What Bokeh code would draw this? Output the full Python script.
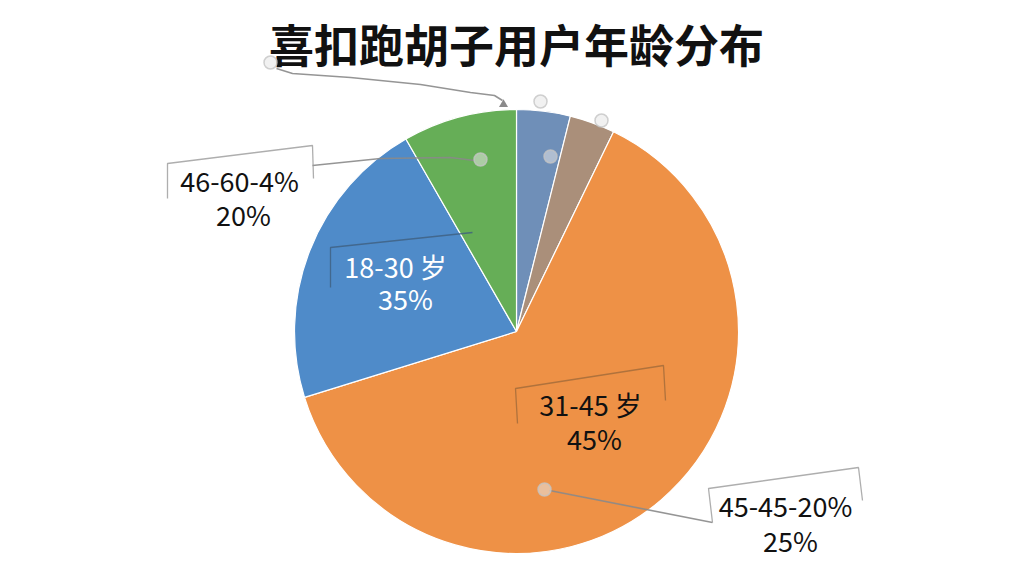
import numpy as np
from bokeh.plotting import figure
from bokeh.models import Range1d, ColumnDataSource
from bokeh.core.properties import value
from bokeh.embed import file_html
from bokeh.resources import INLINE

# ---- data ----
title = "喜扣跑胡子用户年龄分布"
slice_names = ["其他A", "其他B", "31-45岁", "18-30岁", "46-60岁"]
slice_shares = [3.9, 3.3, 63.0, 21.5, 8.3]
slice_colors = ["#6F8FB8", "#AA8F7A", "#EE9146", "#4F8BC9", "#66AE57"]
label_line1 = ["46-60-4%", "18-30 岁", "31-45 岁", "45-45-20%"]
label_line2 = ["20%", "35%", "45%", "25%"]
label_colors = ["#111111", "#FFFFFF", "#111111", "#111111"]

# ---- layout (screen pixels of the page) ----
FONT = value("Noto Sans CJK SC")
W, H = 1008, 560
def Y(sy):
    return 576 - sy

p = figure(width=W, height=H, x_range=Range1d(0, 1008), y_range=Range1d(16, 576),
           output_backend="svg", toolbar_location=None, min_border=0)
p.axis.visible = False
p.grid.visible = False
p.outline_line_color = None
p.background_fill_color = "white"
p.border_fill_color = "white"

cx, cy, r = 516, Y(331), 222
fr = np.array(slice_shares) / sum(slice_shares)
cum = np.concatenate([[0], np.cumsum(fr)])
start = np.pi / 2 - 2 * np.pi * cum[:-1]
end = np.pi / 2 - 2 * np.pi * cum[1:]
src = ColumnDataSource(dict(start=start, end=end, color=slice_colors, name=slice_names))
p.wedge(x=cx, y=cy, radius=r, start_angle="start", end_angle="end", direction="clock",
        fill_color="color", line_color="white", line_width=1.2, source=src)

# title
p.text(x=[516], y=[Y(43)], text=[title], text_font=FONT, text_font_size="45px",
       text_font_style="bold", text_align="center", text_baseline="middle", text_color="#111111")

# leader lines
leader_x = [[276, 292, 350, 420, 470, 494, 502],
            [312, 380, 450, 474],
            [549, 712]]
leader_y = [[Y(68), Y(73), Y(77), Y(84), Y(92), Y(95), Y(100)],
            [Y(165), Y(158), Y(157), Y(160)],
            [Y(490), Y(522)]]
p.multi_line(xs=leader_x, ys=leader_y, line_color="#8a8a8a", line_width=1.6, line_alpha=0.9)
p.scatter(x=[503], y=[Y(104)], marker="triangle", size=9, fill_color="#8a8a8a", line_color=None)

# small callout dots
dot_x = [270, 540, 550, 601, 480, 544]
dot_y = [Y(62), Y(101), Y(156), Y(120), Y(159), Y(489)]
p.scatter(x=dot_x, y=dot_y, size=13, fill_color="#e6e6e6", fill_alpha=0.55,
          line_color="#c4c4c4", line_width=1.5, line_alpha=0.8)

# label boxes (partial, tilted outlines)
box_x = [[167, 167, 312, 313],
         [330, 330, 472],
         [517, 515, 663, 665],
         [712, 708, 858, 862]]
box_y = [[Y(198), Y(163), Y(145), Y(178)],
         [Y(287), Y(247), Y(232)],
         [Y(423), Y(388), Y(365), Y(400)],
         [Y(522), Y(488), Y(467), Y(500)]]
p.multi_line(xs=box_x, ys=box_y, line_color=["#9a9a9a", "#3f5f80", "#a06a3a", "#9a9a9a"],
             line_width=1.3, line_alpha=0.8)

# labels
l1x = [239, 395, 590, 785]
l1y = [Y(180), Y(266), Y(404), Y(505)]
l2x = [243, 405, 594, 790]
l2y = [Y(214), Y(298), Y(438), Y(540)]
p.text(x=l1x, y=l1y, text=label_line1, text_font=FONT, text_font_size="27px",
       text_align="center", text_baseline="middle", text_color=label_colors)
p.text(x=l2x, y=l2y, text=label_line2, text_font=FONT, text_font_size="27px",
       text_align="center", text_baseline="middle", text_color=label_colors)

open("out.html", "w").write(file_html(p, INLINE))
